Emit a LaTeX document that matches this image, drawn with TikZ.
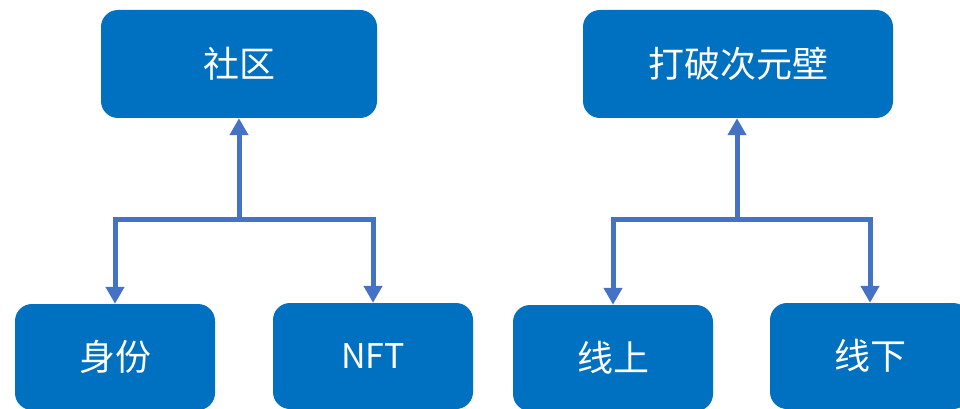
\documentclass[tikz,border=0pt]{standalone}
\usepackage{fontspec}
\setmainfont{Noto Sans CJK SC}
\usetikzlibrary{arrows.meta}
\definecolor{boxblue}{HTML}{0070C0}
\definecolor{arrowblue}{HTML}{4472C4}
\tikzset{
  box/.style={draw=none, fill=boxblue, rounded corners=17pt, inner sep=0pt,
    text=white, font=\fontsize{36pt}{38pt}\selectfont, anchor=center},
  latinbox/.style={font=\fontsize{34pt}{36pt}\selectfont},
  topbox/.style={box, minimum height=108pt},
  lowbox/.style={box, minimum width=200pt, minimum height=106pt},
  conn/.style={draw=arrowblue, line width=5pt, -{Triangle[width=18pt,length=17pt]}},
}
\begin{document}
\begin{tikzpicture}[x=1pt,y=-1pt]
\useasboundingbox (0,0) rectangle (960,409);
\clip (0,0) rectangle (960,409);
% left group
\node[topbox, minimum width=276pt] (comm) at (239,64) {社区};
\node[lowbox] (ident) at (115,357) {身份};
\node[lowbox, latinbox] (nft) at (373,356) {NFT};
\coordinate (jl) at (239,219);
% right group
\node[topbox, minimum width=310pt] (break) at (738,64) {打破次元壁};
\node[lowbox] (online) at (613,358) {线上};
\node[lowbox] (offline) at (870,356) {线下};
\coordinate (jr) at (737,219);
% connectors
\draw[conn] (jl) -- (comm.south);
\draw[conn] (jl) -| (ident.north);
\draw[conn] (jl) -| (nft.north);
\draw[conn] (jr) -- (jr |- break.south);
\draw[conn] (jr) -| (online.north);
\draw[conn] (jr) -| (offline.north);
\end{tikzpicture}
\end{document}
